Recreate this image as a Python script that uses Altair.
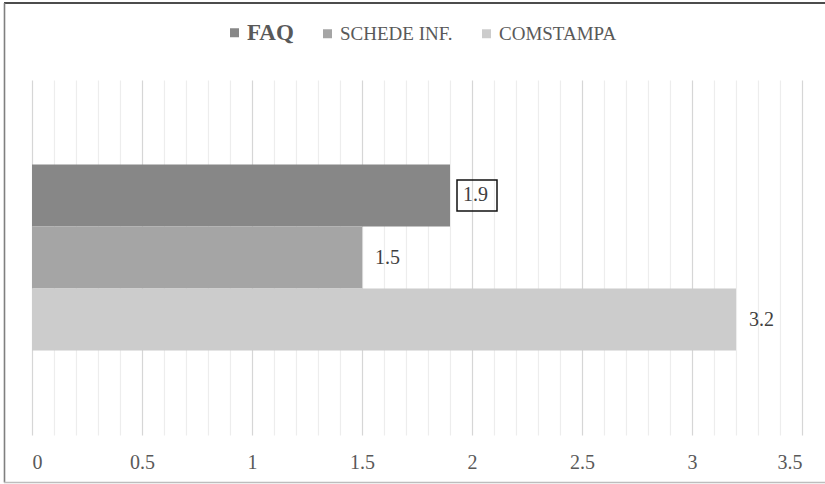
import altair as alt
import pandas as pd

# Series shown as horizontal bars, top to bottom
series = ["FAQ", "Schede inf.", "ComStampa"]
values = [1.9, 1.5, 3.2]
colors = ["#878787", "#a5a5a5", "#cccccc"]

# Gridline positions every 0.1; only the multiples of 0.5 carry a label
x_ticks = [round(i / 10, 1) for i in range(36)]

FONT = "Liberation Serif"
HALF = "abs(datum.value*2 - round(datum.value*2)) < 0.001"

df = pd.DataFrame({"gruppo": ["Documenti"] * len(series), "serie": series, "valore": values})
frame = pd.DataFrame({"k": [0]})

x_enc = alt.X(
    "valore:Q",
    scale=alt.Scale(domain=[0, 3.5], nice=False, zero=True),
    axis=alt.Axis(
        values=x_ticks,
        tickCount=40,
        labelOverlap=False,
        title=None,
        domain=False,
        ticks=False,
        tickSize=0,
        labelPadding=17,
        labelFont=FONT,
        labelFontSize=20,
        labelColor="#595959",
        labelExpr=f"{HALF} ? toString(round(datum.value*10)/10) : ''",
        gridColor=alt.ExprRef(f"{HALF} ? '#d6d6d6' : '#ededed'"),
        gridWidth=1.2,
    ),
)
y_enc = alt.Y("gruppo:N", axis=None, scale=alt.Scale(paddingOuter=0.454, paddingInner=0))
yoff_enc = alt.YOffset("serie:N", sort=series, scale=alt.Scale(paddingInner=0, paddingOuter=0))

base = alt.Chart(df)

bars = base.mark_bar().encode(
    x=x_enc,
    y=y_enc,
    yOffset=yoff_enc,
    color=alt.Color(
        "serie:N",
        sort=series,
        scale=alt.Scale(domain=series, range=colors),
        legend=alt.Legend(
            title=None,
            orient="none",
            direction="horizontal",
            legendX=193,
            legendY=-57,
            symbolType="square",
            symbolSize=81,
            symbolStrokeWidth=0,
            labelOffset=3,
            columnPadding=24,
            labelFont=FONT,
            labelColor="#595959",
            labelExpr="datum.label == 'FAQ' ? 'FAQ' : upper(datum.label)",
            labelFontWeight=alt.ExprRef("datum.label == 'FAQ' ? 'bold' : 'normal'"),
            labelFontSize=alt.ExprRef("datum.label == 'FAQ' ? 23 : 19"),
        ),
    ),
)

labels = base.mark_text(
    align="left", baseline="middle", dx=13, font=FONT, fontSize=20, color="#404040"
).encode(x="valore:Q", y=y_enc, yOffset=yoff_enc, text=alt.Text("valore:Q", format=".1f"))

# Framed value label on the first series
box = base.transform_filter(alt.datum.serie == "FAQ").mark_point(
    shape="M-1,-0.775L1,-0.775L1,0.775L-1,0.775Z",
    size=1600,
    filled=False,
    stroke="#111111",
    strokeWidth=1.5,
    opacity=1,
    xOffset=27,
).encode(x="valore:Q", y=y_enc, yOffset=yoff_enc)

# Outer frame of the figure
top_line = alt.Chart(frame).mark_rule(color="#111111", strokeWidth=1.6).encode(
    x=alt.value(-28), x2=alt.value(793), y=alt.value(-77)
)
left_line = alt.Chart(frame).mark_rule(color="#7f7f7f", strokeWidth=1.6).encode(
    x=alt.value(-27.5), y=alt.value(-77), y2=alt.value(402.5)
)
bottom_line = alt.Chart(frame).mark_rule(color="#bdbdbd", strokeWidth=1.6).encode(
    x=alt.value(-28), x2=alt.value(793), y=alt.value(402.5)
)

chart = (
    alt.layer(bars, labels, box, top_line, left_line, bottom_line)
    .properties(
        width=770,
        height=355,
        autosize=alt.AutoSizeParams(type="none"),
        padding={"left": 32, "top": 80, "right": 23, "bottom": 49},
        background="white",
    )
    .configure_view(stroke=None)
)

chart.save("out.html", embed_options={"renderer": "svg", "actions": False})
